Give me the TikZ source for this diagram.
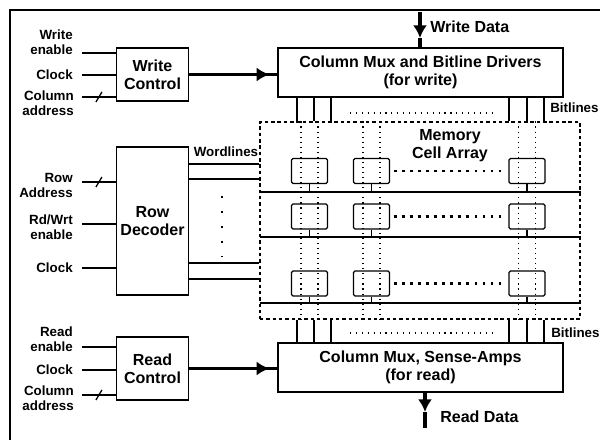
\documentclass[tikz,border=0pt]{standalone}
\usepackage{fontspec}
\setmainfont{Liberation Sans}
\usepackage{tikz}
\usetikzlibrary{arrows.meta,positioning,calc}
\tikzset{
  % Plain block (controls, decoder, column muxes)
  blk/.style={rectangle,draw,line width=0.9pt,inner sep=1pt,
    align=center,font=\fontsize{11.4}{13}\selectfont\bfseries},
  % Memory cell
  cellbox/.style={rectangle,draw,line width=0.9pt,rounded corners=1pt,
    minimum width=0.9cm,minimum height=0.62cm,inner sep=0pt},
  % Dashed outline of the cell array
  arrbox/.style={rectangle,draw,line width=0.8pt,
    dash pattern=on 2.5pt off 2pt,inner sep=0pt,
    minimum width=8cm,minimum height=4.925cm},
  % Small input labels
  lbl/.style={font=\fontsize{9.5}{10.5}\selectfont\bfseries,
    align=right,anchor=east,inner sep=0pt},
  % Large labels
  blbl/.style={font=\fontsize{11.4}{13}\selectfont\bfseries,
    align=center,inner sep=0pt},
  % Wires
  sig/.style={line width=0.9pt},
  bus/.style={line width=2.6pt},
  busarr/.style={line width=2.6pt,-{Latex[length=9pt,width=10pt]}},
  bitl/.style={line width=0.8pt,dash pattern=on 0.8pt off 2.8pt},
  hdots/.style={line width=1.7pt,dash pattern=on 1.7pt off 4pt},
  vdots/.style={line width=1.6pt,dash pattern=on 1.6pt off 9pt},
  sdots/.style={line width=0.8pt,dash pattern=on 0.8pt off 3.4pt},
}
\begin{document}
\begin{tikzpicture}[x=0.025cm,y=-0.025cm]
  \useasboundingbox (0,0) rectangle (600,440);
  \draw[sig] (10,440) -- (10,10) -- (600,10);

  % blocks
  \node[blk,minimum width=1.8cm,minimum height=1.325cm] (wctl)
    at (152.5,74.5) {Write\\Control};
  \node[blk,minimum width=1.8cm,minimum height=3.7cm] (rdec)
    at (152.5,221) {Row\\Decoder};
  \node[blk,minimum width=1.8cm,minimum height=1.575cm] (rctl)
    at (152.5,368.5) {Read\\Control};
  \node[blk,minimum width=7.125cm,minimum height=1.225cm] (wmux)
    at (420.5,72.5) {Column Mux and Bitline Drivers\\(for write)};
  \node[blk,minimum width=7.125cm,minimum height=1.225cm] (rmux)
    at (420.5,367.5) {Column Mux, Sense-Amps\\(for read)};
  \node[arrbox] (arr) at (420,220.5) {};
  \node[blbl] (arrlbl) at (450,146) {Memory\\Cell Array};

  % cells
  \foreach \c/\cx in {1/309.5,2/371.5,3/527}{
    \foreach \r/\ry in {1/171,2/216.5,3/283.5}{
      \node[cellbox] (c\r\c) at (\cx,\ry) {};
    }
  }

  % wordlines in the array
  \foreach \r/\wy in {1/192,2/237,3/303}{
    \coordinate (wl\r) at (260,\wy);
    \draw[sig] (wl\r) -- (wl\r -| arr.east);
    \foreach \c in {1,2,3}
      \draw[sig] (c\r\c.south) -- (c\r\c.south |- wl\r);
    \draw[hdots,shorten <=3pt,shorten >=3pt] (c\r2) -- (c\r3);
  }

  % bitlines
  \foreach \bx in {301,318,363,380,518.5,535.5}
    \draw[bitl] (\bx,0 |- arr.north) -- (\bx,0 |- arr.south);
  \foreach \bx in {297,314,331,509,527,544}{
    \draw[sig] (\bx,0 |- wmux.south) -- (\bx,0 |- arr.north);
    \draw[sig] (\bx,0 |- arr.south) -- (\bx,0 |- rmux.north);
  }
  \draw[sdots] (350,113) -- (492,113);
  \draw[sdots] (350,333) -- (492,333);
  \node[lbl,anchor=west] (btop) at (550,108) {Bitlines};
  \node[lbl,anchor=west] (bbot) at (551,333) {Bitlines};

  % decoder wordlines
  \foreach \wy in {164,179,263,279}
    \draw[sig] (rdec.east |- 0,\wy) -- (arr.west |- 0,\wy);
  \draw[vdots] (222,196) -- (222,257);
  \node[lbl,anchor=center] (wlbl) at (226,152) {Wordlines};

  % write control inputs
  \coordinate (wen) at (82,53);
  \coordinate (wclk) at (82,75);
  \coordinate (wcol) at (82,97);
  \node[lbl] (lwen) at (73,42.5) {Write\\enable};
  \node[lbl] (lwclk) at (73,75) {Clock};
  \node[lbl] (lwcol) at (74,103.5) {Column\\address};
  \draw[sig] (wen) -- (wen -| wctl.west);
  \draw[sig] (wclk) -- (wclk -| wctl.west);
  \draw[sig] (wcol) -- coordinate (wcolm) (wcol -| wctl.west);
  \draw[sig] (wcolm) +(-3,5) -- +(3,-5);

  % row decoder inputs
  \coordinate (radr) at (82,182);
  \coordinate (rwen) at (82,224);
  \coordinate (rclk) at (82,268);
  \node[lbl] (lradr) at (73,185.5) {Row\\Address};
  \node[lbl] (lrwen) at (73,227.5) {Rd/Wrt\\enable};
  \node[lbl] (lrclk) at (73,268) {Clock};
  \draw[sig] (radr) -- coordinate (radrm) (radr -| rdec.west);
  \draw[sig] (radrm) +(-3,5) -- +(3,-5);
  \draw[sig] (rwen) -- (rwen -| rdec.west);
  \draw[sig] (rclk) -- (rclk -| rdec.west);

  % read control inputs
  \coordinate (ren) at (82,347);
  \coordinate (rdclk) at (82,370);
  \coordinate (rcol) at (82,395);
  \node[lbl] (lren) at (73,339.5) {Read\\enable};
  \node[lbl] (lrdclk) at (73,370) {Clock};
  \node[lbl] (lrcol) at (74,398) {Column\\address};
  \draw[sig] (ren) -- (ren -| rctl.west);
  \draw[sig] (rdclk) -- (rdclk -| rctl.west);
  \draw[sig] (rcol) -- coordinate (rcolm) (rcol -| rctl.west);
  \draw[sig] (rcolm) +(-3,5) -- +(3,-5);

  % thick control paths
  \draw[bus] (wctl.east) -- (wctl.east -| wmux.west);
  \draw[busarr] (wctl.east) -- ($(wctl.east -| wmux.west)+(-8,0)$);
  \draw[bus] (rctl.east) -- (rctl.east -| rmux.west);
  \draw[busarr] (rctl.east) -- ($(rctl.east -| rmux.west)+(-8,0)$);

  % data in / out
  \coordinate (wdin) at (420,12);
  \coordinate (wdhead) at (420,38);
  \draw[busarr] (wdin) -- (wdhead);
  \draw[bus] (wdhead) -- (wdhead |- wmux.north);
  \node[blbl,anchor=west] (wdlbl) at (430,27) {Write Data};
  \coordinate (rdhead) at (425,412);
  \coordinate (rdout) at (425,428);
  \draw[busarr] (rdhead |- rmux.south) -- (rdhead);
  \draw[bus] (rdhead) -- (rdout);
  \node[blbl,anchor=west] (rdlbl) at (440,417) {Read Data};
\end{tikzpicture}
\end{document}
